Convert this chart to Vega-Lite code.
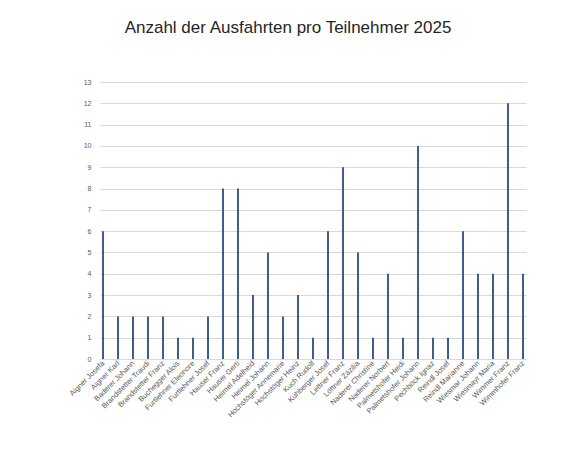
{
  "$schema": "https://vega.github.io/schema/vega-lite/v6.json",
  "description": "Anzahl der Ausfahrten pro Teilnehmer 2025",
  "autosize": {"type": "none"},
  "padding": {"left": 100, "top": 82, "right": 48, "bottom": 115},
  "width": 426,
  "height": 277,
  "background": "white",
  "title": {
    "text": "Anzahl der Ausfahrten pro Teilnehmer 2025",
    "anchor": "middle",
    "dx": -25,
    "offset": 41,
    "font": "Liberation Sans",
    "fontSize": 17,
    "fontWeight": "normal",
    "color": "#262626"
  },
  "data": {
    "values": [
      {"name": "Aigner Josefa", "count": 6},
      {"name": "Aigner Karl", "count": 2},
      {"name": "Baderer Johann", "count": 2},
      {"name": "Brandstetter Traudi", "count": 2},
      {"name": "Brandstetter Franz", "count": 2},
      {"name": "Buchegger Alois", "count": 1},
      {"name": "Furtlehner Eleonore", "count": 1},
      {"name": "Furtlehner Josef", "count": 2},
      {"name": "Hauser Franz", "count": 8},
      {"name": "Hauser Gerti", "count": 8},
      {"name": "Heimel Adelheid", "count": 3},
      {"name": "Heimel Johann", "count": 5},
      {"name": "Hochstöger Annemarie", "count": 2},
      {"name": "Hochstöger Heinz", "count": 3},
      {"name": "Kuch Rudolf", "count": 1},
      {"name": "Kühberger Josef", "count": 6},
      {"name": "Lettner Franz", "count": 9},
      {"name": "Löttner Zäzilia", "count": 5},
      {"name": "Naderer Christine", "count": 1},
      {"name": "Naderer Norbert", "count": 4},
      {"name": "Palmetshofer Heidi", "count": 1},
      {"name": "Palmetshofer Johann", "count": 10},
      {"name": "Pechböck Ignaz", "count": 1},
      {"name": "Reindl Josef", "count": 1},
      {"name": "Reindl Marianne", "count": 6},
      {"name": "Wiesmar Johann", "count": 4},
      {"name": "Wiesmayr Maria", "count": 4},
      {"name": "Wimmer Franz", "count": 12},
      {"name": "Wimmhofer Franz", "count": 4}
    ]
  },
  "mark": {"type": "rule", "strokeWidth": 1.8, "color": "#2b4a84"},
  "encoding": {
    "x": {
      "field": "name",
      "type": "nominal",
      "sort": null,
      "scale": {"type": "point", "padding": 0.2},
      "axis": {
        "title": null,
        "labelAngle": -45,
        "labelAlign": "right",
        "labelBaseline": "middle",
        "labelFont": "Liberation Sans",
        "labelFontSize": 7.5,
        "labelColor": "#595959",
        "labelPadding": 3,
        "ticks": false,
        "domainColor": "#d9d9d9",
        "grid": false
      }
    },
    "y": {
      "field": "count",
      "type": "quantitative",
      "scale": {"domain": [0, 13], "nice": false},
      "axis": {
        "title": null,
        "values": [0, 1, 2, 3, 4, 5, 6, 7, 8, 9, 10, 11, 12, 13],
        "labelFont": "Liberation Sans",
        "labelFontSize": 7,
        "labelColor": "#595959",
        "labelPadding": 9,
        "ticks": false,
        "domain": false,
        "gridColor": "#d9d9d9",
        "gridWidth": 1
      }
    },
    "y2": {"datum": 0}
  },
  "config": {"view": {"stroke": null}}
}
